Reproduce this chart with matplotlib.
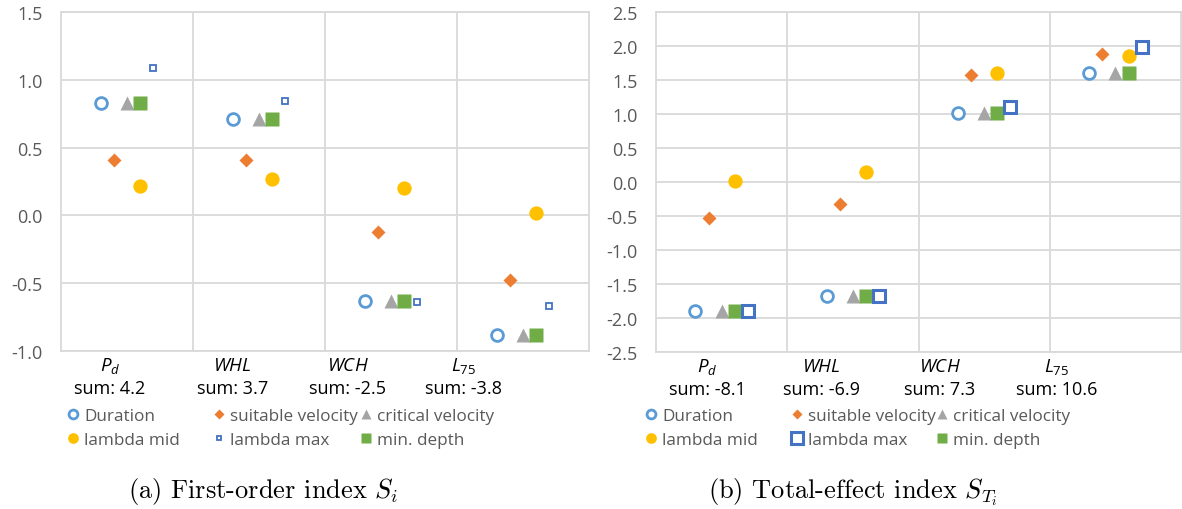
import numpy as np
import matplotlib.pyplot as plt
from matplotlib.lines import Line2D

plt.rcParams['font.family'] = 'Open Sans'
plt.rcParams['axes.unicode_minus'] = False
plt.rcParams['mathtext.fontset'] = 'custom'
plt.rcParams['mathtext.it'] = 'Open Sans:italic'
plt.rcParams['mathtext.rm'] = 'Open Sans'

# Input parameters (x categories)
param_labels = [r'$P_d$', r'$WHL$', r'$WCH$', r'$L_{\mathit{75}}$']

# First-order index S_i
si_duration = [0.83, 0.71, -0.63, -0.88]
si_suitable = [0.41, 0.41, -0.12, -0.48]
si_critical = [0.83, 0.71, -0.63, -0.88]
si_lambda_mid = [0.22, 0.27, 0.20, 0.02]
si_lambda_max = [1.09, 0.84, -0.64, -0.67]
si_min_depth = [0.83, 0.71, -0.63, -0.88]
si_sums = ['4.2', '3.7', '-2.5', '-3.8']

# Total-effect index S_Ti
st_duration = [-1.90, -1.67, 1.01, 1.61]
st_suitable = [-0.53, -0.32, 1.57, 1.88]
st_critical = [-1.90, -1.67, 1.02, 1.61]
st_lambda_mid = [0.02, 0.15, 1.60, 1.86]
st_lambda_max = [-1.90, -1.68, 1.11, 1.99]
st_min_depth = [-1.90, -1.67, 1.02, 1.61]
st_sums = ['-8.1', '-6.9', '7.3', '10.6']

series_names = ['Duration', 'suitable velocity', 'critical velocity',
                'lambda mid', 'lambda max', 'min. depth']

GRID = '#D9D9D9'
TXT = '#595959'


def styles(big_square):
    sq = dict(marker='s', ms=8 if big_square else 4.2, mfc='white',
              mec='#4472C4', mew=2.2 if big_square else 1.3)
    return [
        dict(marker='o', ms=8.5, mfc='white', mec='#5B9BD5', mew=2.0),
        dict(marker='D', ms=7.0, mfc='#ED7D31', mec='none'),
        dict(marker='^', ms=10.5, mfc='#A5A5A5', mec='none'),
        dict(marker='o', ms=10.3, mfc='#FFC000', mec='none'),
        sq,
        dict(marker='s', ms=10.3, mfc='#70AD47', mec='none'),
    ]


offsets = [-0.2, -0.1, 0.0, 0.1, 0.2, 0.1]
zorders = [3, 3, 3, 3, 5, 4]

fig = plt.figure(figsize=(11.82, 5.10), dpi=100)
ax1 = fig.add_axes([61 / 1182, 1 - 352 / 510, 528 / 1182, 339 / 510])
ax2 = fig.add_axes([656 / 1182, 1 - 353 / 510, 525 / 1182, 340 / 510])

cats = np.arange(1, 5)

# (axes, series, sums, big lambda-max marker, y range,
#  category label x, legend column x in pixels)
panels = [
    (ax1, [si_duration, si_suitable, si_critical, si_lambda_mid,
           si_lambda_max, si_min_depth], si_sums, False,
     (-1.0, 1.5), [0.87, 1.80, 2.67, 3.55], [73, 219, 366]),
    (ax2, [st_duration, st_suitable, st_critical, st_lambda_mid,
           st_lambda_max, st_min_depth], st_sums, True,
     (-2.5, 2.5), [0.89, 1.76, 2.66, 3.55], [651, 797, 942]),
]

for ax, data, sums, big, ylim, label_x, col_x in panels:
    sty = styles(big)
    for vals, off, st, z, name in zip(data, offsets, sty, zorders,
                                      series_names):
        ax.plot(cats + off, vals, linestyle='none', zorder=z, label=name,
                clip_on=False, **st)
    ax.set_xlim(0.5, 4.5)
    ax.set_ylim(*ylim)
    ax.set_yticks(np.arange(ylim[0], ylim[1] + 0.01, 0.5))
    ax.yaxis.set_major_formatter(plt.FormatStrFormatter('%.1f'))
    ax.set_xticks([1.5, 2.5, 3.5])
    ax.set_xticklabels([])
    ax.grid(True, color=GRID, linewidth=1.3, zorder=0)
    ax.set_axisbelow(True)
    ax.tick_params(length=0, labelsize=13, labelcolor=TXT, pad=13)
    for sp in ax.spines.values():
        sp.set_color(GRID)
        sp.set_linewidth(1.3)
    tr = ax.get_xaxis_transform()
    h = ax.get_position().height * 510
    for x, lab, s in zip(label_x, param_labels, sums):
        ax.text(x, -14 / h, lab, transform=tr, ha='center', va='center',
                fontsize=13.5)
        ax.text(x, -37 / h, 'sum: ' + s, transform=tr, ha='center',
                va='center', fontsize=13)

    # legend laid out in three columns like the spreadsheet legend
    handles = []
    for i, st in enumerate(sty):
        st = dict(st)
        if not (big and i == 4):
            st['ms'] = st['ms'] * 0.75
        handles.append(Line2D([], [], linestyle='none', **st))
    for c in range(3):
        idx = [c, c + 3]
        fig.legend([handles[i] for i in idx], [series_names[i] for i in idx],
                   loc='center left',
                   bbox_to_anchor=((col_x[c] - 7) / 1182, 1 - 429 / 510),
                   frameon=False, fontsize=12.3, handlelength=0.8,
                   handletextpad=0.25, borderpad=0, borderaxespad=0,
                   labelspacing=0.45, labelcolor=TXT)

fig.text(263 / 1182, 1 - 492 / 510, r'(a) First-order index $S_i$',
         family='cmr10', math_fontfamily='cm', fontsize=19,
         ha='center', va='center')
fig.text(853 / 1182, 1 - 492 / 510, r'(b) Total-effect index $S_{T_i}$',
         family='cmr10', math_fontfamily='cm', fontsize=19,
         ha='center', va='center')

fig.savefig('out.png', dpi=100)
